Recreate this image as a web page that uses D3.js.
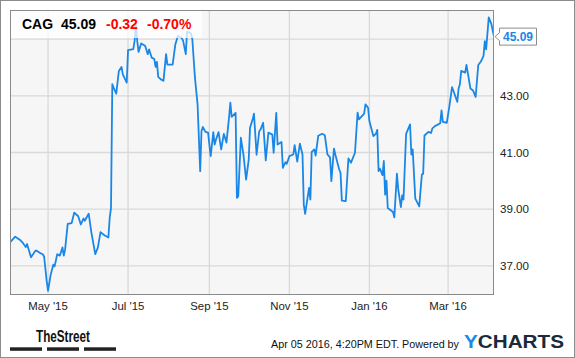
<!DOCTYPE html>
<html>
<head>
<meta charset="utf-8">
<script src="https://d3js.org/d3.v7.min.js"></script>
<style>
  html, body { margin: 0; padding: 0; background: #fff; }
  svg { display: block; font-family: "Liberation Sans", Arial, sans-serif; }
</style>
</head>
<body>
<div id="chart"></div>
<script>
// CAG daily close
var dates = [
  "2015-04-02","2015-04-06","2015-04-10","2015-04-12","2015-04-14","2015-04-15","2015-04-18","2015-04-21","2015-04-22","2015-04-25",
  "2015-04-27","2015-04-28","2015-04-30","2015-05-01","2015-05-03","2015-05-05","2015-05-06","2015-05-08","2015-05-10","2015-05-12",
  "2015-05-13","2015-05-14","2015-05-16","2015-05-19","2015-05-21","2015-05-24","2015-05-26","2015-05-28","2015-05-29","2015-06-01",
  "2015-06-03","2015-06-06","2015-06-08","2015-06-10","2015-06-13","2015-06-16","2015-06-17","2015-06-18","2015-06-19","2015-06-20",
  "2015-06-22","2015-06-24","2015-06-26","2015-06-27","2015-06-30","2015-07-01","2015-07-05","2015-07-06","2015-07-07","2015-07-08",
  "2015-07-09","2015-07-11","2015-07-14","2015-07-16","2015-07-17","2015-07-19","2015-07-21","2015-07-22","2015-07-23","2015-07-24",
  "2015-07-26","2015-07-28","2015-07-30","2015-07-31","2015-08-04","2015-08-06","2015-08-08","2015-08-11","2015-08-12","2015-08-14",
  "2015-08-15","2015-08-18","2015-08-19","2015-08-21","2015-08-23","2015-08-25","2015-08-26","2015-08-27","2015-08-29","2015-08-31",
  "2015-09-02","2015-09-04","2015-09-05","2015-09-06","2015-09-08","2015-09-10","2015-09-12","2015-09-14","2015-09-16","2015-09-17",
  "2015-09-18","2015-09-21","2015-09-22","2015-09-23","2015-09-25","2015-09-27","2015-09-29","2015-10-01","2015-10-02","2015-10-04",
  "2015-10-05","2015-10-07","2015-10-09","2015-10-10","2015-10-12","2015-10-14","2015-10-16","2015-10-19","2015-10-20","2015-10-22",
  "2015-10-23","2015-10-26","2015-10-27","2015-10-29","2015-10-30","2015-11-01","2015-11-04","2015-11-05","2015-11-07","2015-11-09",
  "2015-11-11","2015-11-12","2015-11-13","2015-11-16","2015-11-17","2015-11-18","2015-11-20","2015-11-21","2015-11-23","2015-11-26",
  "2015-11-28","2015-11-30","2015-12-02","2015-12-03","2015-12-05","2015-12-06","2015-12-09","2015-12-10","2015-12-11","2015-12-14",
  "2015-12-16","2015-12-18","2015-12-21","2015-12-23","2015-12-24","2015-12-28","2015-12-29","2015-12-31","2016-01-01","2016-01-04",
  "2016-01-06","2016-01-07","2016-01-08","2016-01-09","2016-01-11","2016-01-12","2016-01-13","2016-01-14","2016-01-15","2016-01-19",
  "2016-01-20","2016-01-22","2016-01-23","2016-01-25","2016-01-26","2016-01-27","2016-01-29","2016-02-01","2016-02-02","2016-02-03",
  "2016-02-05","2016-02-08","2016-02-10","2016-02-11","2016-02-12","2016-02-15","2016-02-17","2016-02-18","2016-02-20","2016-02-24",
  "2016-02-25","2016-02-26","2016-02-29","2016-03-02","2016-03-04","2016-03-08","2016-03-09","2016-03-10","2016-03-11","2016-03-14",
  "2016-03-15","2016-03-16","2016-03-18","2016-03-20","2016-03-22","2016-03-24","2016-03-26","2016-03-28","2016-03-29","2016-03-30",
  "2016-04-01","2016-04-03","2016-04-05"
];

var prices = [
  37.83,38.03,37.90,37.80,37.66,37.77,37.30,37.51,37.54,37.45,
  37.41,37.33,36.45,36.12,36.68,37.04,36.98,37.41,37.36,37.65,
  37.36,37.57,38.48,38.51,38.88,38.75,38.46,38.67,38.59,38.84,
  38.19,37.41,37.65,38.19,38.08,38.00,38.69,39.04,43.41,43.29,
  43.08,43.88,44.02,43.76,43.47,44.61,44.65,44.94,45.51,44.94,
  44.55,44.85,44.77,44.47,44.64,44.35,44.30,44.02,44.20,43.67,
  43.58,43.53,44.47,44.10,44.10,44.80,45.12,45.04,44.94,44.47,
  45.27,45.20,45.00,43.64,42.70,40.34,41.76,41.90,41.73,41.70,
  40.87,41.72,41.28,41.45,41.72,41.11,41.66,41.35,42.23,42.76,
  42.26,42.40,39.40,39.45,41.52,40.92,40.04,40.75,41.87,42.17,
  42.37,40.92,41.75,41.81,42.05,40.72,41.70,41.63,40.99,42.40,
  41.28,41.37,40.46,40.66,40.60,40.87,40.93,41.26,40.68,41.31,
  40.93,39.16,38.83,39.75,39.34,41.02,41.11,40.89,41.59,41.66,
  41.61,40.93,40.83,39.99,41.14,40.93,40.40,40.28,39.30,39.28,
  40.79,40.64,40.99,42.41,42.17,42.37,42.70,42.58,42.11,41.58,
  41.66,41.80,40.34,40.43,40.20,40.70,39.51,40.01,39.04,38.90,
  38.71,40.25,39.70,39.07,39.49,39.34,41.66,41.99,40.93,41.11,
  39.37,39.10,40.22,40.25,41.60,41.73,41.69,41.85,41.93,42.03,
  42.49,42.08,42.05,42.64,43.31,42.79,43.26,43.41,43.88,43.82,
  44.09,43.82,43.26,43.19,42.96,44.09,44.21,44.41,44.93,44.64,
  45.77,45.53,45.09
];

var yTicks = [37, 39, 41, 43, 45];
var yLabelTicks = [37, 39, 41, 43];
var ticker = "CAG";
var lastPrice = "45.09";
var change = "-0.32";
var changePct = "-0.70%";
var stamp = "Apr 05 2016, 4:20PM EDT.  Powered by";

var width = 575, height = 358;
var plot = {left: 10, top: 10, right: 494, bottom: 295};
var lineColor = "#1a87e6";

var parseDate = d3.timeParse("%Y-%m-%d");
var data = dates.map(function (d, i) {
    return {date: parseDate(d), value: prices[i]};
});

var x = d3.scaleTime()
    .domain([parseDate("2015-04-02"), parseDate("2016-04-05")])
    .range([plot.left, plot.right]);

var y = d3.scaleLinear()
    .domain([35.97, 46.03])
    .range([plot.bottom, plot.top]);

var svg = d3.select("#chart")
    .append("svg")
    .attr("width", width)
    .attr("height", height);

// outer frame
svg.append("rect")
    .attr("x", 0.5).attr("y", 0.5)
    .attr("width", width - 1).attr("height", height - 1)
    .attr("fill", "#fff")
    .attr("stroke", "#8c8c8c");

// plot background
svg.append("rect")
    .attr("x", plot.left).attr("y", plot.top)
    .attr("width", plot.right - plot.left).attr("height", plot.bottom - plot.top)
    .attr("fill", "#f6f6f6");

// grid
var grid = svg.append("g").attr("stroke", "#d9d9d9").attr("stroke-width", 1.3);
grid.selectAll(".hg")
    .data(yTicks)
    .enter().append("line")
    .attr("x1", plot.left).attr("x2", plot.right)
    .attr("y1", function (d) { return y(d); })
    .attr("y2", function (d) { return y(d); });

var xTicks = x.ticks(d3.timeMonth.every(2));
grid.selectAll(".vg")
    .data(xTicks)
    .enter().append("line")
    .attr("y1", plot.top).attr("y2", plot.bottom)
    .attr("x1", function (d) { return x(d); })
    .attr("x2", function (d) { return x(d); });

svg.append("defs").append("clipPath")
    .attr("id", "clip")
    .append("rect")
    .attr("x", plot.left).attr("y", plot.top)
    .attr("width", plot.right - plot.left).attr("height", plot.bottom - plot.top);

var line = d3.line()
    .x(function (d) { return x(d.date); })
    .y(function (d) { return y(d.value); });

svg.append("path")
    .datum(data)
    .attr("clip-path", "url(#clip)")
    .attr("fill", "none")
    .attr("stroke", lineColor)
    .attr("stroke-width", 1.8)
    .attr("stroke-linejoin", "round")
    .attr("d", line);

// plot frame
svg.append("rect")
    .attr("x", plot.left + 0.5).attr("y", plot.top + 0.5)
    .attr("width", plot.right - plot.left - 1).attr("height", plot.bottom - plot.top - 1)
    .attr("fill", "none")
    .attr("stroke", "#8a8a8a");

// header box
svg.append("rect")
    .attr("x", plot.left + 1).attr("y", plot.top + 1)
    .attr("width", 191).attr("height", 27)
    .attr("fill", "#fff")
    .attr("opacity", 0.75);

var head = svg.append("g")
    .attr("font-size", "14px")
    .attr("font-weight", "bold");
head.append("text").attr("x", 22).attr("y", 29).attr("fill", "#000").text(ticker);
head.append("text").attr("x", 61).attr("y", 29).attr("fill", "#000").text(lastPrice);
head.append("text").attr("x", 106).attr("y", 29).attr("fill", "#f00").text(change);
head.append("text").attr("x", 147).attr("y", 29).attr("fill", "#f00").text(changePct);

// y labels
svg.append("g")
    .selectAll("text")
    .data(yLabelTicks)
    .enter().append("text")
    .attr("x", 500)
    .attr("y", function (d) { return y(d) + 4; })
    .attr("font-size", "11.6px")
    .attr("fill", "#222")
    .text(function (d) { return d3.format(".2f")(d); });

// x labels
var fmt = d3.timeFormat("%b '%y");
svg.append("g")
    .selectAll("text")
    .data(xTicks)
    .enter().append("text")
    .attr("x", function (d) { return x(d); })
    .attr("y", 309.5)
    .attr("text-anchor", "middle")
    .attr("font-size", "11.4px")
    .attr("fill", "#222")
    .text(function (d) { return fmt(d); });

// last price flag
var yl = y(+lastPrice);
var flag = svg.append("g");
flag.append("path")
    .attr("d", "M" + (plot.right + 1) + "," + yl + " L499.5," + (yl - 4) + " L499.5," + (yl - 8.5) +
        " L536.5," + (yl - 8.5) + " L536.5," + (yl + 8.5) + " L499.5," + (yl + 8.5) + " L499.5," + (yl + 4) + " Z")
    .attr("fill", "#fff")
    .attr("stroke", "#8c8c8c");
flag.append("text")
    .attr("x", 518).attr("y", yl + 4.3)
    .attr("text-anchor", "middle")
    .attr("font-size", "12px")
    .attr("font-weight", "bold")
    .attr("fill", lineColor)
    .text(lastPrice);

// footer
svg.append("text")
    .attr("x", 36).attr("y", 342)
    .attr("font-size", "16px")
    .attr("font-weight", "bold")
    .attr("fill", "#111")
    .attr("textLength", 54)
    .attr("lengthAdjust", "spacingAndGlyphs")
    .text("TheStreet");

svg.append("g")
    .selectAll("rect")
    .data([10, 47, 84])
    .enter().append("rect")
    .attr("x", function (d) { return d; })
    .attr("y", 347.3)
    .attr("width", 32).attr("height", 3.5)
    .attr("fill", "#222");

svg.append("text")
    .attr("x", 271).attr("y", 348)
    .attr("font-size", "11px")
    .attr("fill", "#111")
    .attr("textLength", 188)
    .attr("lengthAdjust", "spacingAndGlyphs")
    .text(stamp);

var logo = svg.append("text")
    .attr("x", 464).attr("y", 348)
    .attr("font-size", "18px")
    .attr("font-weight", "bold")
    .attr("textLength", 100)
    .attr("lengthAdjust", "spacingAndGlyphs");
logo.append("tspan").attr("fill", "#1a8be8").text("Y");
logo.append("tspan").attr("fill", "#1b2a3a").text("CHARTS");
</script>
</body>
</html>
